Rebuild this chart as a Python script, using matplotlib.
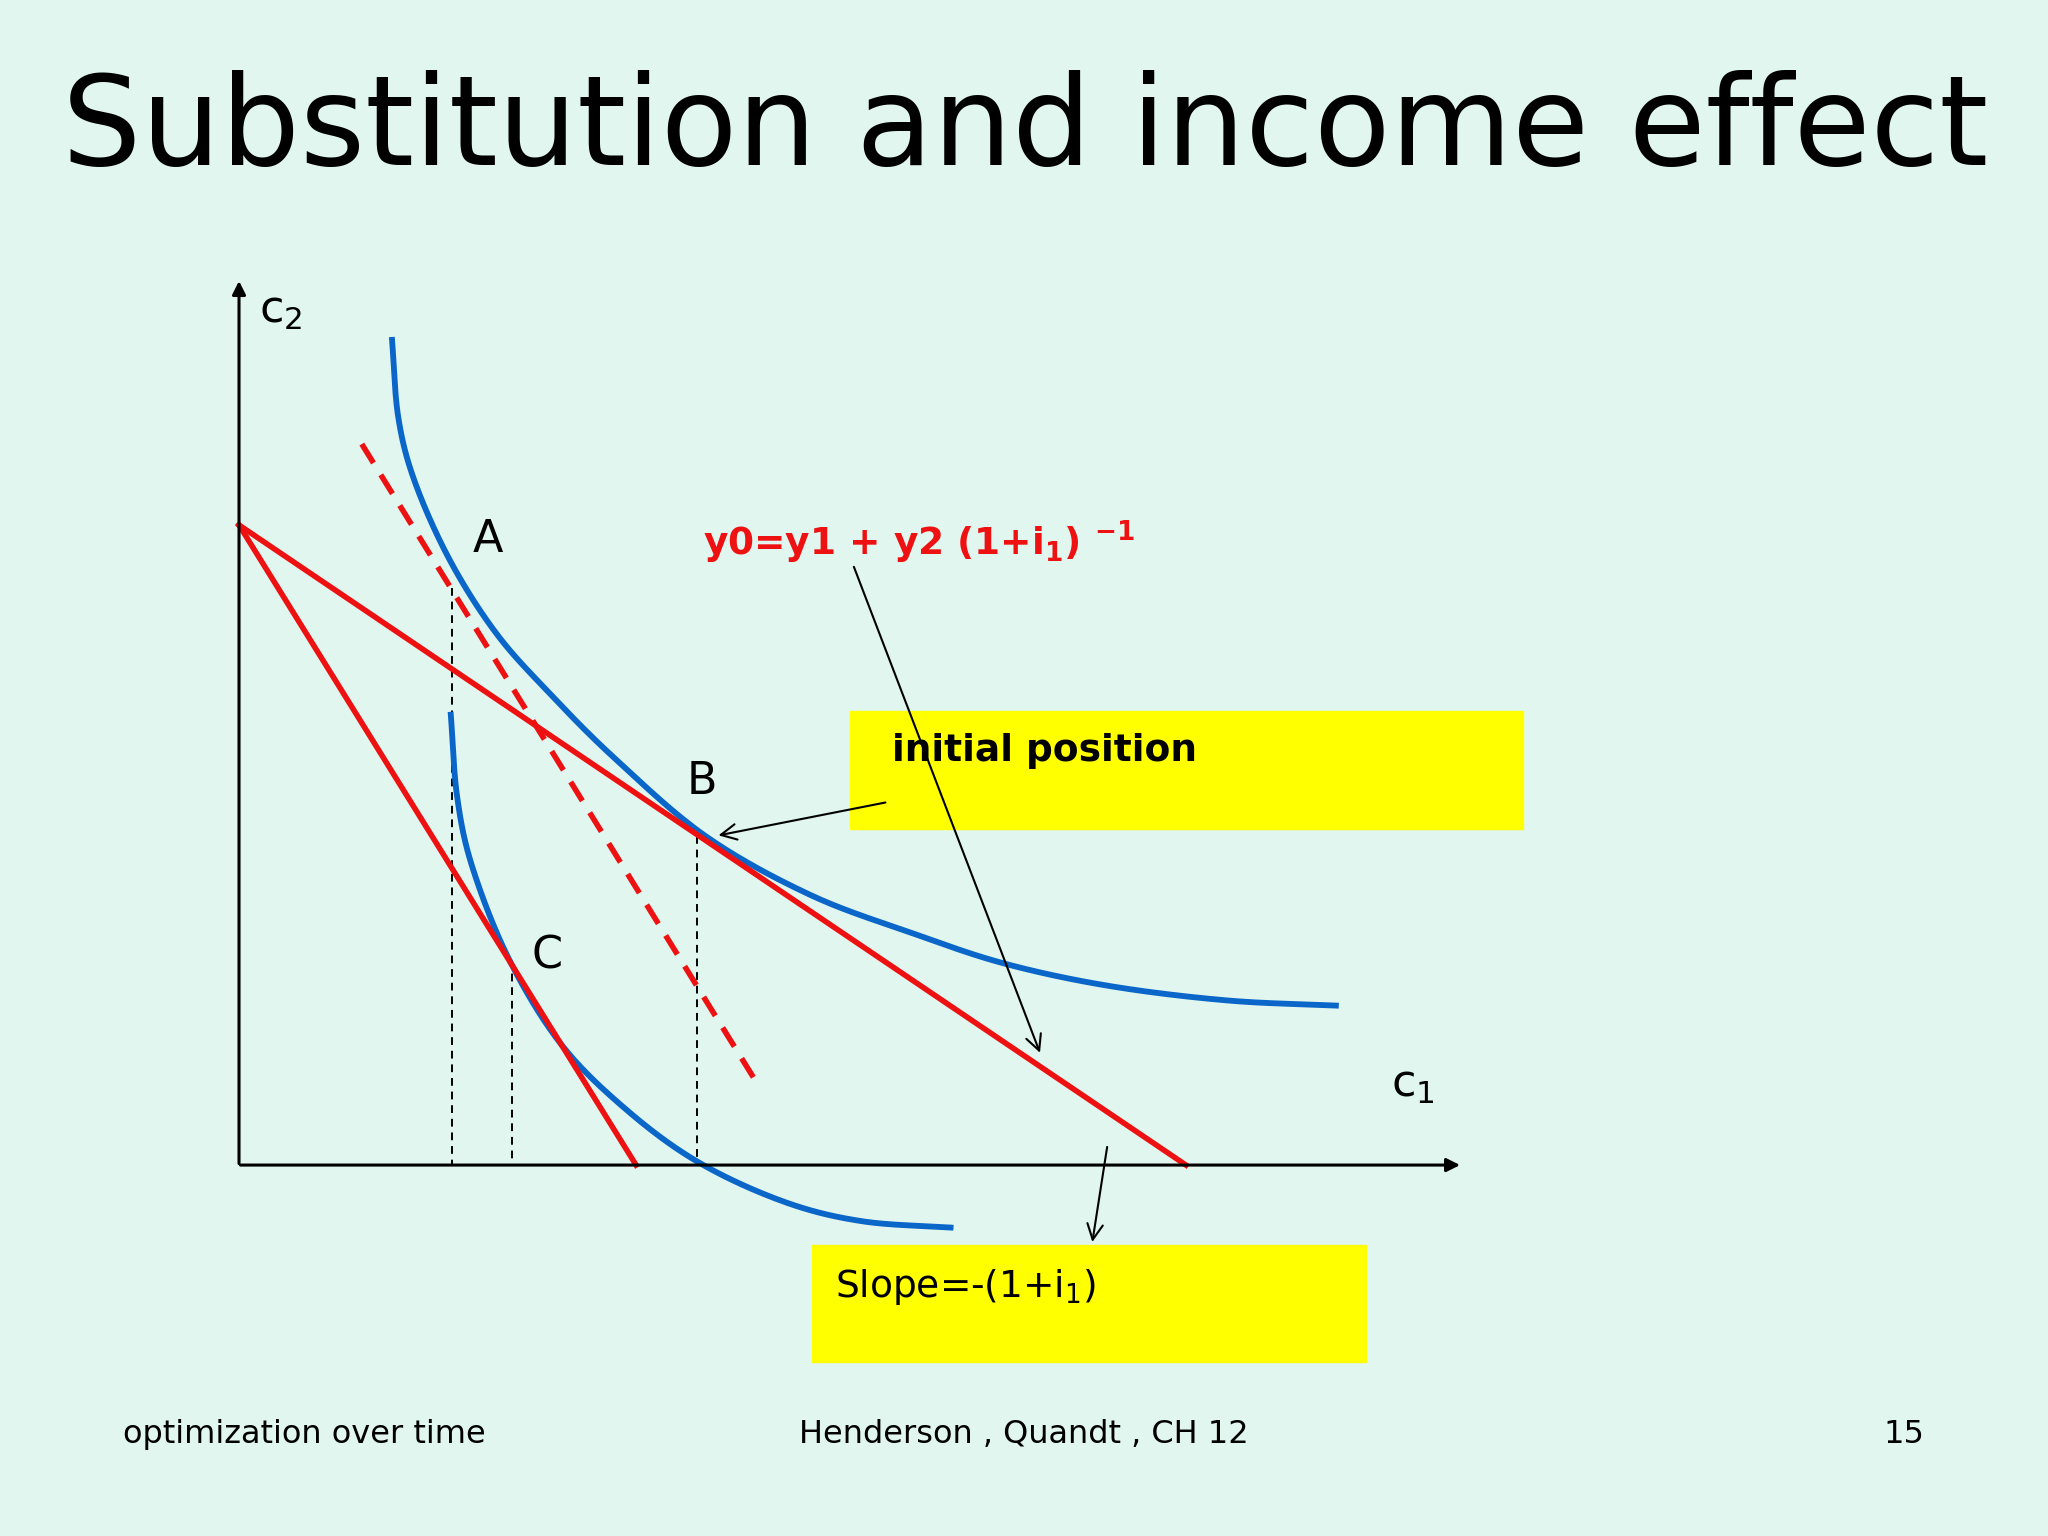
import matplotlib
matplotlib.use("Agg")
import matplotlib.pyplot as plt
import numpy as np

# slide coordinates (pixels on a 1568x1176 slide)
upper_ic_x = [300, 305, 318, 345, 380, 420, 470, 540, 620, 700, 770, 850, 940, 1025]
upper_ic_y = [258, 320, 370, 430, 485, 530, 580, 640, 685, 715, 738, 755, 766, 770]
lower_ic_x = [345, 350, 362, 390, 430, 480, 535, 600, 660, 730]
lower_ic_y = [545, 610, 665, 735, 800, 850, 890, 920, 935, 940]
budget_x, budget_y = [183, 908], [402, 892]
steep_x, steep_y = [183, 487], [402, 892]
dashed_x, dashed_y = [277, 580], [340, 830]
drops_x = [346, 392, 534]
drops_top = [450, 735, 640]

BG = "#e1f6ef"
fig = plt.figure(figsize=(20.48, 15.36), dpi=100, facecolor=BG)
ax = fig.add_axes([0, 0, 1, 1])
ax.set_xlim(0, 1568); ax.set_ylim(1176, 0); ax.axis("off")
ax.set_facecolor(BG)

ax.text(785, 100, "Substitution and income effect", fontsize=90, ha="center", va="center")

# axes
ax.annotate("", xy=(183, 213), xytext=(183, 893), arrowprops=dict(arrowstyle="-|>", color="black", lw=2.2, mutation_scale=20))
ax.annotate("", xy=(1120, 892), xytext=(182, 892), arrowprops=dict(arrowstyle="-|>", color="black", lw=2.2, mutation_scale=20))

for x, t in zip(drops_x, drops_top):
    ax.plot([x, x], [t, 892], color="black", ls=(0, (4, 3)), lw=1.4)

def smooth(xs, ys):
    xs, ys = np.array(xs, float), np.array(ys, float)
    t = np.r_[0, np.cumsum(np.hypot(np.diff(xs), np.diff(ys)))]
    tt = np.linspace(0, t[-1], 400)
    from numpy.polynomial import polynomial
    # Catmull-Rom-like smoothing via cubic fit per segment
    px, py = [], []
    P = np.c_[xs, ys]
    P = np.vstack([P[0]*2-P[1], P, P[-1]*2-P[-2]])
    for i in range(1, len(P)-2):
        p0, p1, p2, p3 = P[i-1], P[i], P[i+1], P[i+2]
        s = np.linspace(0, 1, 30)[:, None]
        c = 0.5*((2*p1) + (-p0+p2)*s + (2*p0-5*p1+4*p2-p3)*s**2 + (-p0+3*p1-3*p2+p3)*s**3)
        px.extend(c[:, 0]); py.extend(c[:, 1])
    return px, py

blue = "#0a66c8"; red = "#ee1111"
ax.plot(*smooth(upper_ic_x, upper_ic_y), color=blue, lw=4.2, solid_capstyle="butt")
ax.plot(*smooth(lower_ic_x, lower_ic_y), color=blue, lw=4.2, solid_capstyle="butt")
ax.plot(budget_x, budget_y, color=red, lw=4)
ax.plot(steep_x, steep_y, color=red, lw=4)
ax.plot(dashed_x, dashed_y, color=red, lw=4, ls=(0, (4, 2.5)))

ax.text(198, 238, r"c$_2$", fontsize=32, va="center")
ax.text(1065, 830, r"c$_1$", fontsize=32, va="center")
ax.text(362, 413, "A", fontsize=32, va="center")
ax.text(526, 598, "B", fontsize=32, va="center")
ax.text(407, 732, "C", fontsize=32, va="center")

ax.text(538, 415, r"y0=y1 + y2 (1+i$_\mathbf{1}$) $^{\mathbf{-1}}$", fontsize=27, color=red, fontweight="bold", va="center")

ax.add_patch(plt.Rectangle((651, 544), 515, 91, color="#ffff00", zorder=1))
ax.text(683, 575, "initial position", fontsize=27, fontweight="bold", va="center", zorder=3)
ax.add_patch(plt.Rectangle((622, 953), 424, 90, color="#ffff00", zorder=1))
ax.text(639, 985, r"Slope=-(1+i$_1$)", fontsize=27, va="center", zorder=3)

arr = dict(arrowstyle="->", color="black", lw=1.5, mutation_scale=28)
ax.annotate("", xy=(548, 640), xytext=(680, 614), arrowprops=arr, zorder=4)
ax.annotate("", xy=(797, 808), xytext=(653, 432), arrowprops=arr, zorder=4)
ax.annotate("", xy=(836, 953), xytext=(848, 876), arrowprops=arr, zorder=4)

ax.text(94, 1098, "optimization over time", fontsize=23, va="center")
ax.text(784, 1098, "Henderson , Quandt , CH 12", fontsize=23, va="center", ha="center")
ax.text(1473, 1098, "15", fontsize=23, va="center", ha="right")

fig.savefig("out.png", dpi=100, facecolor=BG)
